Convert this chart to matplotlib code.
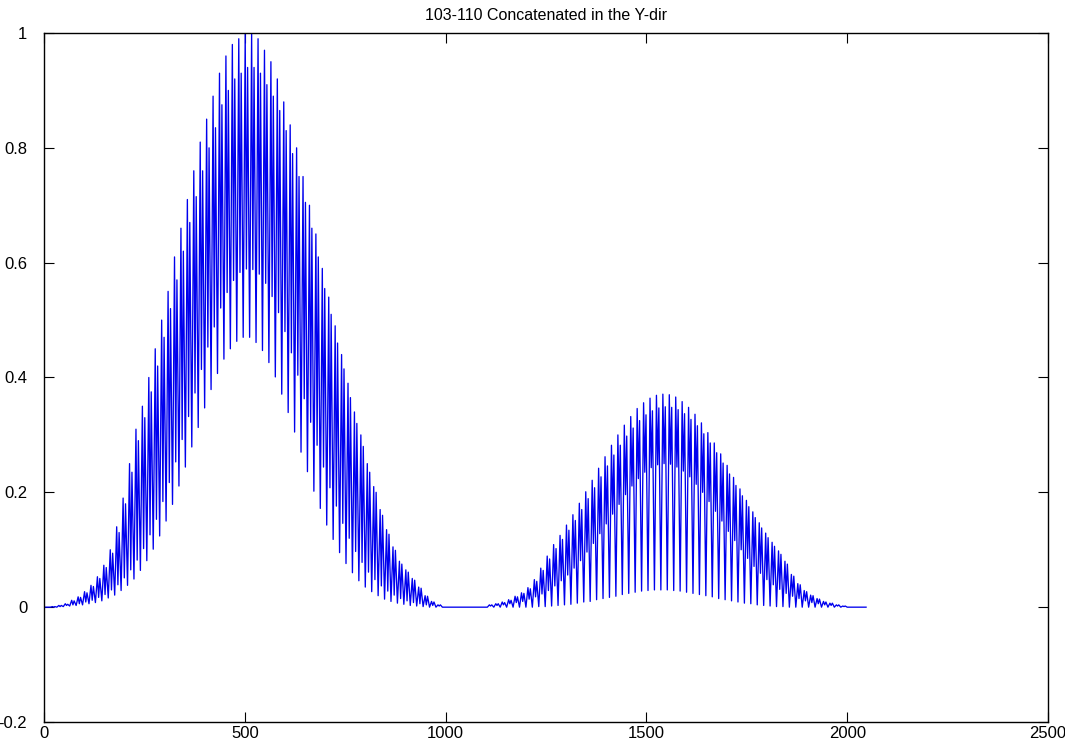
import matplotlib
matplotlib.use("Agg")
import matplotlib.pyplot as plt

# ---- data: per 16-sample period (128 periods, 2048 samples) ----
samples_per_period = 16
n_samples = 2048

# first hump (periods 0..62)
h1_peak = [0.0, 0.001, 0.003, 0.006, 0.012, 0.018, 0.027, 0.038, 0.053, 0.073,
           0.10, 0.14, 0.19, 0.25, 0.31, 0.35, 0.40, 0.45, 0.50, 0.55,
           0.61, 0.66, 0.71, 0.76, 0.81, 0.85, 0.89, 0.93, 0.96, 0.98,
           0.99, 1.00, 1.00, 0.99, 0.97, 0.95, 0.92, 0.88, 0.84, 0.80,
           0.75, 0.70, 0.65, 0.59, 0.54, 0.49, 0.44, 0.39, 0.34, 0.30,
           0.25, 0.21, 0.17, 0.135, 0.105, 0.08, 0.065, 0.05, 0.035, 0.02,
           0.01, 0.004, 0.0]
h1_peak2 = [0.0, 0.001, 0.003, 0.005, 0.011, 0.017, 0.025, 0.036, 0.05, 0.069,
            0.094, 0.13, 0.18, 0.235, 0.29, 0.33, 0.375, 0.42, 0.47, 0.52,
            0.57, 0.62, 0.67, 0.715, 0.76, 0.80, 0.835, 0.875, 0.90, 0.92,
            0.93, 0.94, 0.94, 0.93, 0.91, 0.89, 0.865, 0.83, 0.79, 0.75,
            0.705, 0.66, 0.61, 0.555, 0.51, 0.46, 0.415, 0.365, 0.32, 0.28,
            0.235, 0.20, 0.16, 0.127, 0.099, 0.075, 0.061, 0.047, 0.033, 0.019,
            0.009, 0.004, 0.0]
h1_mid = [0.0, 0.0, 0.001, 0.003, 0.004, 0.006, 0.009, 0.012, 0.017, 0.022,
          0.030, 0.039, 0.051, 0.065, 0.082, 0.102, 0.126, 0.153, 0.184, 0.217,
          0.253, 0.292, 0.332, 0.373, 0.414, 0.453, 0.488, 0.521, 0.548, 0.569,
          0.583, 0.589, 0.588, 0.580, 0.564, 0.541, 0.513, 0.480, 0.443, 0.404,
          0.363, 0.322, 0.282, 0.244, 0.208, 0.176, 0.146, 0.120, 0.097, 0.078,
          0.061, 0.048, 0.037, 0.028, 0.021, 0.015, 0.011, 0.008, 0.006, 0.004,
          0.003, 0.002, 0.0]
h1_low = [0.0, 0.0, 0.0, 0.001, 0.002, 0.003, 0.004, 0.006, 0.008, 0.011,
          0.016, 0.021, 0.029, 0.038, 0.049, 0.064, 0.081, 0.101, 0.124, 0.150,
          0.179, 0.211, 0.244, 0.279, 0.313, 0.347, 0.379, 0.407, 0.432, 0.450,
          0.463, 0.470, 0.470, 0.461, 0.447, 0.426, 0.401, 0.371, 0.339, 0.305,
          0.270, 0.236, 0.202, 0.172, 0.143, 0.118, 0.095, 0.076, 0.060, 0.046,
          0.035, 0.027, 0.020, 0.014, 0.010, 0.007, 0.005, 0.003, 0.002, 0.001,
          0.0, 0.0, 0.0]

gap_periods = 6     # flat section between the humps
tail_periods = 3    # flat section at the end

# second hump (periods 69..124)
h2_peak = [0.004, 0.006, 0.009, 0.013, 0.019, 0.025, 0.034, 0.048, 0.068, 0.089,
           0.109, 0.125, 0.143, 0.161, 0.181, 0.201, 0.221, 0.242, 0.262, 0.282,
           0.300, 0.317, 0.332, 0.346, 0.356, 0.364, 0.369, 0.371, 0.370, 0.366,
           0.358, 0.348, 0.336, 0.321, 0.304, 0.286, 0.267, 0.247, 0.226, 0.206,
           0.186, 0.166, 0.147, 0.129, 0.113, 0.098, 0.080, 0.057, 0.041, 0.029,
           0.021, 0.015, 0.010, 0.007, 0.004, 0.002]
h2_peak2 = [0.004, 0.006, 0.008, 0.012, 0.018, 0.024, 0.032, 0.045, 0.064, 0.084,
            0.102, 0.118, 0.134, 0.151, 0.170, 0.189, 0.208, 0.227, 0.246, 0.265,
            0.282, 0.298, 0.312, 0.325, 0.335, 0.342, 0.347, 0.349, 0.348, 0.344,
            0.337, 0.327, 0.316, 0.302, 0.286, 0.269, 0.251, 0.232, 0.212, 0.194,
            0.175, 0.156, 0.138, 0.121, 0.106, 0.092, 0.075, 0.054, 0.039, 0.027,
            0.020, 0.014, 0.009, 0.007, 0.004, 0.002]
h2_mid = [0.002, 0.003, 0.004, 0.006, 0.008, 0.010, 0.014, 0.018, 0.023, 0.029,
          0.037, 0.046, 0.056, 0.068, 0.081, 0.096, 0.111, 0.128, 0.145, 0.162,
          0.179, 0.196, 0.211, 0.224, 0.235, 0.243, 0.248, 0.250, 0.249, 0.244,
          0.237, 0.227, 0.214, 0.200, 0.184, 0.167, 0.150, 0.132, 0.116, 0.100,
          0.085, 0.071, 0.059, 0.048, 0.039, 0.031, 0.024, 0.019, 0.015, 0.011,
          0.008, 0.006, 0.004, 0.003, 0.002, 0.001]
h2_low = [0.0, 0.0, 0.0, 0.0, 0.0, 0.0, 0.0, 0.0, 0.001, 0.001,
          0.002, 0.003, 0.004, 0.005, 0.007, 0.009, 0.010, 0.013, 0.015, 0.017,
          0.019, 0.022, 0.024, 0.026, 0.028, 0.029, 0.030, 0.030, 0.030, 0.029,
          0.028, 0.026, 0.024, 0.022, 0.020, 0.018, 0.015, 0.013, 0.011, 0.009,
          0.007, 0.006, 0.004, 0.003, 0.002, 0.001, 0.001, 0.0, 0.0, 0.0,
          0.0, 0.0, 0.0, 0.0, 0.0, 0.0]

x_ticks = [0, 500, 1000, 1500, 2000, 2500]
y_ticks = [-0.2, 0, 0.2, 0.4, 0.6, 0.8, 1]
y_tick_labels = ["-0.2", "0", "0.2", "0.4", "0.6", "0.8", "1"]
title = "103-110 Concatenated in the Y-dir"

# ---- assemble the sample series ----
zeros_gap = [0.0] * gap_periods
zeros_tail = [0.0] * tail_periods
peak = h1_peak + zeros_gap + h2_peak + zeros_tail
peak2 = h1_peak2 + zeros_gap + h2_peak2 + zeros_tail
mid = h1_mid + zeros_gap + h2_mid + zeros_tail
low = h1_low + zeros_gap + h2_low + zeros_tail

offsets = (0, 5, 8, 11)  # sample index within a period of low, peak, mid, peak2
xs, ys = [], []
for k in range(len(peak)):
    base = k * samples_per_period
    for off, val in zip(offsets, (low[k], peak[k], mid[k], peak2[k])):
        xs.append(base + off)
        ys.append(val)
xs.append(n_samples - 1)
ys.append(0.0)

# ---- figure ----
fig = plt.figure(figsize=(10.65, 7.46), dpi=100)
ax = fig.add_axes([44 / 1065, 24 / 746, (1048 - 44) / 1065, (722 - 33) / 746])
ax.plot(xs, ys, color="#0000ee", linewidth=0.95)

ax.set_xlim(0, 2500)
ax.set_ylim(-0.2, 1)
ax.set_xticks(x_ticks)
ax.set_xticklabels([str(t) for t in x_ticks])
ax.set_yticks(y_ticks)
ax.set_yticklabels(y_tick_labels)

fam = ["Liberation Sans Narrow", "Liberation Sans", "DejaVu Sans"]
for lab in ax.get_xticklabels() + ax.get_yticklabels():
    lab.set_family(fam)
    lab.set_fontsize(12)

ax.tick_params(direction="in", length=7, width=0.8, top=True, right=True,
               colors="black")
ax.tick_params(axis="y", pad=12)
ax.tick_params(axis="x", pad=3)
for s in ax.spines.values():
    s.set_linewidth(1.0)
    s.set_color("black")

ax.set_title(title, fontsize=11.5, family=fam, pad=9)

fig.savefig("out.png", dpi=100, facecolor="white")
